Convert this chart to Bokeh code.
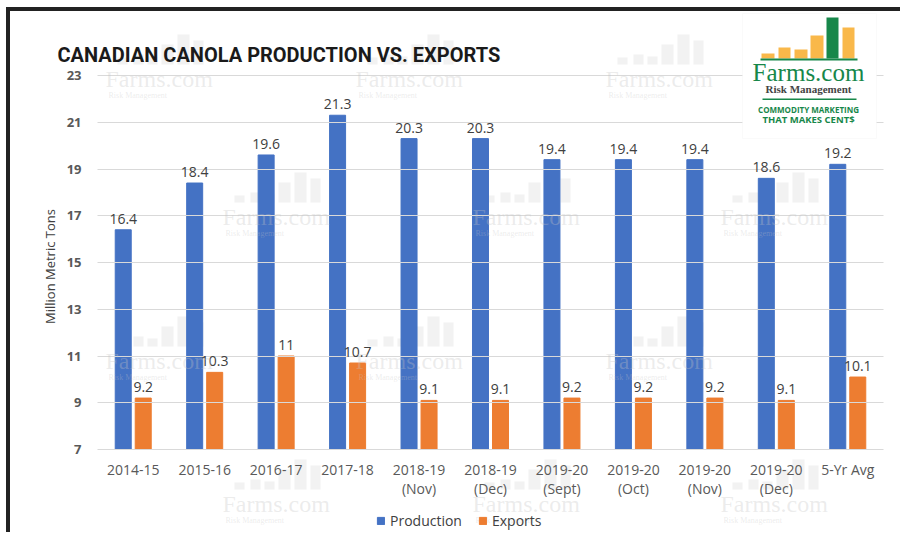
from bokeh.plotting import figure
from bokeh.models import (ColumnDataSource, Range1d, LabelSet, Label,
                          Legend, LegendItem, BoxAnnotation, FixedTicker)
from bokeh.transform import dodge
from bokeh.embed import file_html
from bokeh.resources import INLINE
from bokeh.core.properties import value

# ---------------- data ----------------
categories = ["2014-15", "2015-16", "2016-17", "2017-18", "2018-19\n(Nov)", "2018-19\n(Dec)",
              "2019-20\n(Sept)", "2019-20\n(Oct)", "2019-20\n(Nov)", "2019-20\n(Dec)", "5-Yr Avg"]
production = [16.4, 18.4, 19.6, 21.3, 20.3, 20.3, 19.4, 19.4, 19.4, 18.6, 19.2]
exports = [9.2, 10.3, 11, 10.7, 9.1, 9.1, 9.2, 9.2, 9.2, 9.1, 10.1]
y_ticks = [7, 9, 11, 13, 15, 17, 19, 21, 23]
series_names = ["Production", "Exports"]
title_text = "CANADIAN CANOLA PRODUCTION VS. EXPORTS"
y_label = "Million Metric Tons"

BLUE = "#4472C4"
ORANGE = "#ED7D31"
FONT = "Open Sans"

idx = list(range(len(categories)))
src = ColumnDataSource(dict(
    xi=idx,
    prod=production,
    exp=exports,
    prod_txt=[f"{v:g}" for v in production],
    exp_txt=[f"{v:g}" for v in exports],
))

# ---------------- layout geometry (pixels) ----------------
W, H = 900, 532
PLOT_L, PLOT_R = 97, 883        # plotting area (category band) in pixels
PLOT_T, PLOT_B = 75, 449        # pixel rows of the top tick (23) and bottom tick (7)
n = len(categories)
unit_px = (PLOT_R - PLOT_L) / n
x_start = -0.5 - PLOT_L / unit_px
x_end = x_start + W / unit_px
y_lo, y_hi = y_ticks[0], y_ticks[-1]
y_px = (PLOT_B - PLOT_T) / (y_hi - y_lo)
y_start = y_lo - (H - PLOT_B) / y_px
y_end = y_hi + PLOT_T / y_px

# the frame covers the whole canvas; axes are pinned at the plotting-area edges
p = figure(width=W, height=H, x_range=Range1d(x_start, x_end), y_range=Range1d(y_start, y_end),
           output_backend="svg", toolbar_location=None,
           min_border_left=0, min_border_right=0, min_border_top=0, min_border_bottom=0)
p.outline_line_color = None
p.background_fill_alpha = 0
p.border_fill_alpha = 0
p.xgrid.visible = False
p.ygrid.visible = False
# black frame lines (left and top) of the original graphic
p.styles = {
    "background-color": "white",
    "background-image": "linear-gradient(#222222,#222222), linear-gradient(#222222,#222222)",
    "background-size": "4px 100%, 100% 4px",
    "background-position": "6px 7px, 6px 7px",
    "background-repeat": "no-repeat",
}


def cbox(l, r, t, b, level="overlay", **kw):
    return BoxAnnotation(left=l, right=r, top=t, bottom=b,
                         left_units="canvas", right_units="canvas",
                         top_units="canvas", bottom_units="canvas", level=level, **kw)


# ---------------- axes ----------------
yax = p.yaxis[0]
yax.fixed_location = -0.5
yax.ticker = FixedTicker(ticks=y_ticks)
yax.axis_line_color = None
yax.major_tick_out = 0
yax.major_tick_in = int(round(PLOT_R - PLOT_L))   # ticks drawn across = horizontal gridlines
yax.major_tick_line_color = "#d9d9d9"
yax.major_tick_line_width = 1
yax.minor_tick_line_color = None
yax.major_label_standoff = 16
yax.major_label_text_font = FONT
yax.major_label_text_font_size = "13px"
yax.major_label_text_font_style = "bold"
yax.major_label_text_color = "#595959"
yax.axis_label = y_label
yax.axis_label_text_font = FONT
yax.axis_label_text_font_size = "13px"
yax.axis_label_text_font_style = "normal"
yax.axis_label_text_color = "#404040"
yax.axis_label_standoff = 5

xax = p.xaxis[0]
xax.fixed_location = y_lo
xax.ticker = FixedTicker(ticks=idx)
xax.major_label_overrides = {i: c for i, c in zip(idx, categories)}
xax.axis_line_color = None
xax.major_tick_line_color = None
xax.minor_tick_line_color = None
xax.major_tick_out = 0
xax.major_tick_in = 0
xax.major_label_standoff = 10
xax.major_label_text_font = FONT
xax.major_label_text_font_size = "14px"
xax.major_label_text_color = "#595959"
xax.major_label_text_line_height = 1.05

# ---------------- bars ----------------
r1 = p.vbar(x=dodge("xi", -0.14), top="prod", bottom=y_lo, width=0.224, source=src, color=BLUE)
r2 = p.vbar(x=dodge("xi", 0.14), top="exp", bottom=y_lo, width=0.224, source=src, color=ORANGE)

# faint watermarks
WM = "#c4c4c4"
wm_pos = [(105, 78), (355, 78), (605, 78),
          (222, 216), (472, 216), (720, 216),
          (105, 360), (355, 360), (605, 360),
          (222, 503), (472, 503), (720, 503)]
wm_bars = [(12, 22, 7), (28, 38, 10), (42, 52, 8), (56, 68, 20), (72, 84, 30), (88, 98, 24)]
for (wx, wy) in wm_pos:
    for (a, b, h) in wm_bars:
        p.add_layout(cbox(wx + a, wx + b, wy - 14 - h, wy - 14, level="underlay",
                          fill_color=WM, fill_alpha=0.22, line_color=None))
    p.add_layout(Label(x=wx, y=wy, x_units="canvas", y_units="canvas", text="Farms.com",
                       text_font="Liberation Serif", text_font_size="24px",
                       text_color=WM, text_alpha=0.32, text_baseline="middle", level="overlay"))
    p.add_layout(Label(x=wx + 3, y=wy + 17, x_units="canvas", y_units="canvas",
                       text="Risk Management",
                       text_font="Liberation Serif", text_font_size="8px",
                       text_color=WM, text_alpha=0.32, text_baseline="middle", level="overlay"))

for col, txt, off in (("prod", "prod_txt", -0.14), ("exp", "exp_txt", 0.14)):
    p.add_layout(LabelSet(x=dodge("xi", off), y=col, text=txt, source=src,
                          y_offset=6, text_align="center", text_baseline="bottom",
                          text_font=value(FONT), text_font_size="14px", text_color="#404040"))

# ---------------- legend ----------------
legend = Legend(items=[LegendItem(label=series_names[0], renderers=[r1]),
                       LegendItem(label=series_names[1], renderers=[r2])],
                orientation="horizontal", location=(376, 2), padding=0, margin=0,
                spacing=16, glyph_width=9, glyph_height=9, label_standoff=5,
                label_text_font=FONT, label_text_font_size="14px", label_text_color="#404040",
                border_line_color=None, background_fill_alpha=0)
p.add_layout(legend, "center")

# ---------------- title ----------------
p.add_layout(Label(x=57, y=54, x_units="canvas", y_units="canvas", text=title_text,
                   text_font="Roboto", text_font_size="20px",
                   text_font_style="bold", text_color="#1a1a1a", text_baseline="alphabetic"))

# ---------------- logo ----------------
YEL = "#F9B84A"
GRN = "#17874A"
p.add_layout(cbox(742, 876, 13, 138, fill_color="white", fill_alpha=1,
                  line_color="#ededed", line_width=1))
logo_bars = [(761, 774, 53, YEL), (778, 790, 47, YEL), (794, 807, 49, YEL),
             (810, 823, 35, YEL), (826, 838, 17, GRN), (842, 854, 27, YEL)]
for (l, r, t, c) in logo_bars:
    p.add_layout(cbox(l, r, t, 58, fill_color=c, fill_alpha=1, line_color=None))
p.add_layout(cbox(760, 857, 58, 60, fill_color=GRN, fill_alpha=1, line_color=None))
p.add_layout(cbox(762, 856, 98, 99.5, fill_color=GRN, fill_alpha=1, line_color=None))
p.add_layout(Label(x=808, y=72, x_units="canvas", y_units="canvas", text="Farms.com",
                   text_font="Liberation Serif", text_font_size="25px",
                   text_color=GRN, text_align="center", text_baseline="middle", level="overlay"))
p.add_layout(Label(x=808, y=88.5, x_units="canvas", y_units="canvas", text="Risk Management",
                   text_font="Liberation Serif", text_font_size="11px",
                   text_font_style="bold", text_color="#444444", text_align="center",
                   text_baseline="middle", level="overlay"))
p.add_layout(Label(x=808, y=109, x_units="canvas", y_units="canvas", text="COMMODITY MARKETING",
                   text_font="Open Sans", text_font_size="8px", text_font_style="bold",
                   text_color=GRN, text_align="center", text_baseline="middle", level="overlay"))
p.add_layout(Label(x=808, y=118.5, x_units="canvas", y_units="canvas", text="THAT MAKES CENT$",
                   text_font="Open Sans", text_font_size="9.5px", text_font_style="bold",
                   text_color=GRN, text_align="center", text_baseline="middle", level="overlay"))

open("out.html", "w").write(file_html(p, INLINE))
